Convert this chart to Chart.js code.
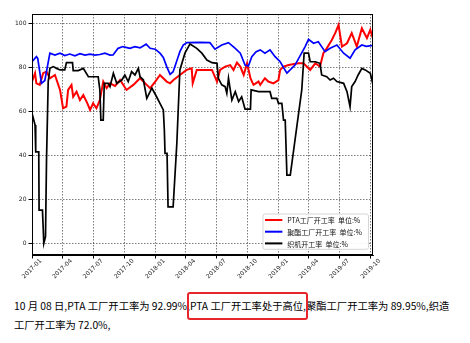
<!DOCTYPE html>
<html><head><meta charset="utf-8">
<script src="https://cdn.jsdelivr.net/npm/chart.js@4.4.0/dist/chart.umd.min.js"></script>
<style>
html,body{margin:0;padding:0;background:#fff;width:470px;height:343px;overflow:hidden;}
#wrap{position:absolute;left:0;top:0;width:470px;height:290px;}
#note{position:absolute;left:14px;top:296px;font-family:"Noto Sans CJK SC",sans-serif;font-size:10.3px;line-height:19px;color:#000;white-space:nowrap;}
#hl{position:absolute;border:2px solid #e8262a;border-radius:3px;box-sizing:border-box;}
</style></head><body>
<div id="wrap"><canvas id="c" width="470" height="290"></canvas></div>
<div id="note">10 月 08 日,PTA 工厂开工率为 92.99%,<span id="hs">PTA 工厂开工率处于高位</span>,聚酯工厂开工率为 89.95%,织造<br>工厂开工率为 72.0%,</div>
<div id="hl"></div>
<script>
const xMin = '2017-01-01';
const xMax = '2019-10-08';
const xTickLabels = ['2017-01','2017-04','2017-07','2017-10','2018-01','2018-04','2018-07','2018-10','2019-01','2019-04','2019-07','2019-10'];
const yTickValues = [0,20,40,60,80,100];
const seriesLabels = ['PTA工厂开工率  单位:%','聚酯工厂开工率  单位:%','织机开工率  单位:%'];

const ptaDates = ['2017-01-01','2017-01-10','2017-01-14','2017-01-24','2017-02-03','2017-02-13','2017-02-23','2017-03-10','2017-03-25','2017-04-03','2017-04-13','2017-04-18','2017-04-28','2017-05-03','2017-05-13','2017-05-23','2017-06-02','2017-06-14','2017-06-22','2017-07-01','2017-07-11','2017-07-21','2017-07-31','2017-08-10','2017-08-20','2017-09-04','2017-09-19','2017-10-08','2017-10-28','2017-11-17','2017-12-07','2017-12-17','2018-01-01','2018-01-15','2018-02-04','2018-02-14','2018-02-24','2018-03-15','2018-04-04','2018-04-19','2018-04-22','2018-05-04','2018-05-09','2018-06-03','2018-06-18','2018-07-03','2018-07-12','2018-07-27','2018-08-11','2018-08-21','2018-08-31','2018-09-10','2018-09-20','2018-09-30','2018-10-10','2018-10-19','2018-11-03','2018-11-08','2018-11-22','2018-12-02','2018-12-17','2019-01-01','2019-01-06','2019-01-16','2019-01-31','2019-03-01','2019-03-16','2019-04-05','2019-04-20','2019-05-04','2019-05-14','2019-05-24','2019-06-08','2019-06-18','2019-06-28','2019-07-08','2019-07-23','2019-08-06','2019-08-21','2019-09-05','2019-09-20','2019-09-30','2019-10-08'];
const ptaRate = [73.5,77.3,72.7,72.0,77.3,78.0,75.0,76.5,69.7,61.4,62.1,69.7,72.0,66.6,68.9,65.1,67.4,63.6,60.6,63.6,61.4,65.1,73.5,70.5,72.7,71.5,74.2,69.7,72.0,75.0,72.0,70.5,73.5,76.5,73.5,72.7,74.2,76.5,78.8,79.5,72.7,78.8,78.8,78.8,78.8,73.5,78.8,80.3,81.0,78.8,82.1,80.3,76.5,81.8,75.0,72.0,73.5,72.0,75.0,73.5,72.7,74.2,78.8,80.3,81.0,81.8,81.8,78.8,81.8,80.3,86.4,88.6,92.4,95.5,99.2,89.4,90.9,95.5,89.4,97.7,93.2,97.0,92.99];

const polyDates = ['2017-01-01','2017-01-14','2017-01-18','2017-01-29','2017-02-08','2017-02-23','2017-03-10','2017-03-25','2017-04-08','2017-04-23','2017-05-08','2017-05-23','2017-06-07','2017-06-22','2017-07-06','2017-07-21','2017-08-05','2017-08-20','2017-08-29','2017-09-13','2017-09-27','2017-10-18','2017-11-02','2017-11-17','2017-12-05','2017-12-17','2018-01-01','2018-01-15','2018-01-25','2018-02-04','2018-02-14','2018-02-23','2018-03-06','2018-03-15','2018-03-25','2018-04-05','2018-05-14','2018-06-12','2018-06-27','2018-07-17','2018-08-06','2018-08-26','2018-09-10','2018-09-24','2018-10-04','2018-10-14','2018-10-27','2018-11-08','2018-11-22','2018-12-07','2018-12-22','2019-01-06','2019-01-26','2019-02-19','2019-03-21','2019-03-31','2019-04-15','2019-04-29','2019-05-19','2019-06-03','2019-06-23','2019-07-13','2019-08-01','2019-08-16','2019-09-05','2019-09-18','2019-10-08'];
const polyRate = [82.5,84.8,84.0,72.7,74.0,86.4,85.5,86.4,85.3,86.0,85.2,86.2,85.5,86.0,85.5,85.8,86.4,85.5,85.6,88.6,89.4,88.6,89.4,88.8,90.5,88.6,88.2,86.4,84.5,80.3,76.8,78.0,83.0,87.1,90.1,91.2,91.3,91.2,88.2,90.1,91.2,88.6,86.4,81.0,80.6,84.8,87.1,87.9,86.4,87.9,84.8,82.5,77.3,81.0,89.4,92.7,90.9,91.6,87.1,88.6,90.1,86.4,84.1,87.9,90.1,89.5,89.95];

const loomDates = ['2017-01-01','2017-01-10','2017-01-12','2017-01-21','2017-01-22','2017-02-01','2017-02-05','2017-02-10','2017-02-13','2017-02-18','2017-02-23','2017-03-05','2017-03-15','2017-03-25','2017-04-08','2017-04-13','2017-05-01','2017-05-03','2017-05-18','2017-06-02','2017-06-17','2017-07-16','2017-07-21','2017-07-24','2017-07-31','2017-08-03','2017-08-15','2017-08-20','2017-08-30','2017-09-09','2017-09-24','2017-10-03','2017-10-13','2017-10-23','2017-11-02','2017-11-12','2017-11-17','2017-11-27','2017-12-07','2017-12-22','2018-01-05','2018-01-15','2018-01-25','2018-01-28','2018-01-30','2018-02-05','2018-02-08','2018-02-23','2018-03-06','2018-03-15','2018-03-30','2018-04-14','2018-05-04','2018-05-19','2018-06-03','2018-06-18','2018-07-03','2018-07-07','2018-07-17','2018-07-27','2018-08-01','2018-08-06','2018-08-16','2018-08-26','2018-09-05','2018-09-14','2018-09-24','2018-10-10','2018-10-12','2018-11-03','2018-12-07','2018-12-12','2018-12-27','2019-01-01','2019-01-11','2019-01-16','2019-01-21','2019-01-26','2019-02-05','2019-03-11','2019-03-18','2019-03-31','2019-04-05','2019-04-20','2019-05-04','2019-05-09','2019-05-24','2019-06-03','2019-06-13','2019-06-23','2019-07-13','2019-07-23','2019-08-01','2019-08-06','2019-08-16','2019-08-25','2019-09-05','2019-09-15','2019-09-30','2019-10-08'];
const loomRate = [59.1,53.8,41.6,41.6,15.1,15.1,0,3,37.9,73.5,79.5,80.3,79.5,78.8,78.8,82.1,82.1,78.5,78.5,79.5,75.7,75.7,69.7,56,56,72.7,72.7,71.2,77.3,72.7,74.2,76.5,73.5,78.0,76.5,79.5,75.7,74.2,65.9,70.5,66.6,63.6,60.6,51.5,40.9,40.9,16.6,16.6,45.5,78.8,86.4,90.6,88.6,86.4,83.3,82.1,81.8,75.0,72.0,71.2,68.2,75.0,65.1,68.9,64.4,66.6,61.0,61.0,69.7,68.9,68.9,65.9,65.9,63.6,63.6,56,56,31,31,69.7,86.4,86.4,82.5,82.5,81.8,76.5,75.7,74.2,75.0,73.5,72.7,68.9,62.1,71.2,73.5,76.5,79.5,78.8,77.3,72.0];

const START = Date.UTC(2017,0,1);
function dayOf(s){const p=s.split('-').map(Number);return (Date.UTC(p[0],p[1]-1,p[2]||1)-START)/86400000;}
function pts(dates, vals){return dates.map((d,i)=>({x:dayOf(d),y:vals[i]}));}

const gridCommon = {color:'rgba(0,0,0,0.65)', lineWidth:0.8, tickLength:3.5, tickColor:'#000', tickWidth:1, drawTicks:true};

const framePlugin = {id:'frame', afterDraw(chart){
  const a=chart.chartArea, ctx=chart.ctx;
  ctx.save(); ctx.strokeStyle='#000'; ctx.lineWidth=1;
  ctx.strokeRect(Math.round(a.left)+0.5, Math.round(a.top)+0.5, Math.round(a.right-a.left)-1, Math.round(a.bottom-a.top)-1);
  ctx.restore();
}};

const xLabelPlugin = {id:'xlab', afterDraw(chart){
  const ctx=chart.ctx, sc=chart.scales.x, top=chart.chartArea.bottom+3;
  ctx.save(); ctx.font='6px "DejaVu Sans"'; ctx.fillStyle='#222'; ctx.textAlign='center'; ctx.textBaseline='middle';
  xTickLabels.forEach(l=>{
    const x=sc.getPixelForValue(dayOf(l)); const w=ctx.measureText(l).width, h=5.4;
    const bb=(w+h)/Math.SQRT2;
    ctx.save(); ctx.translate(x, top+bb/2); ctx.rotate(-Math.PI/4); ctx.fillText(l,0,0); ctx.restore();
  });
  ctx.restore();
}};

const legendPlugin = {id:'leg', afterDraw(chart){
  const ctx=chart.ctx, a=chart.chartArea;
  ctx.save(); ctx.font='7px "Noto Sans CJK SC"';
  let mw=0; chart.data.datasets.forEach(d=>{mw=Math.max(mw,ctx.measureText(d.label).width);});
  const bw=24.4+mw+6.6, bh=35.3;
  const bx=a.right-4.5-bw, by=a.bottom-5.7-bh;
  ctx.fillStyle='rgba(255,255,255,0.9)'; ctx.strokeStyle='#cccccc'; ctx.lineWidth=0.8;
  ctx.beginPath(); ctx.roundRect ? ctx.roundRect(bx,by,bw,bh,2) : ctx.rect(bx,by,bw,bh); ctx.fill(); ctx.stroke();
  chart.data.datasets.forEach((d,i)=>{
    const cy=by+6+i*11.7;
    ctx.strokeStyle=d.borderColor; ctx.lineWidth=2; ctx.beginPath(); ctx.moveTo(bx+2,cy); ctx.lineTo(bx+19.4,cy); ctx.stroke();
    ctx.fillStyle='#111'; ctx.textAlign='left'; ctx.textBaseline='middle'; ctx.fillText(d.label,bx+24.4,cy+0.5);
  });
  ctx.restore();
}};

new Chart(document.getElementById('c'), {
  type:'line',
  data:{datasets:[
    {label:seriesLabels[0], data:pts(ptaDates,ptaRate), borderColor:'#ff0000', borderWidth:2, pointRadius:0, tension:0, fill:false, order:2},
    {label:seriesLabels[1], data:pts(polyDates,polyRate), borderColor:'#0000ff', borderWidth:1.7, pointRadius:0, tension:0, fill:false, order:1},
    {label:seriesLabels[2], data:pts(loomDates,loomRate), borderColor:'#000000', borderWidth:1.7, pointRadius:0, tension:0, fill:false, order:0}
  ]},
  options:{
    responsive:false, animation:false, devicePixelRatio:1,
    layout:{padding:{left:0,right:97,top:14,bottom:0}},
    plugins:{legend:{display:false}, tooltip:{enabled:false}},
    scales:{
      x:{type:'linear', min:dayOf(xMin), max:dayOf(xMax),
        afterBuildTicks:s=>{s.ticks=xTickLabels.map(l=>({value:dayOf(l)}));},
        ticks:{display:false},
        grid:gridCommon,
        border:{display:true,color:'#000',width:1,dash:[1.5,1.5]},
        afterFit:s=>{s.height=35;}
      },
      y:{type:'linear', min:-5.3, max:104.2,
        afterBuildTicks:s=>{s.ticks=yTickValues.map(v=>({value:v}));},
        ticks:{font:{family:'DejaVu Sans',size:6}, color:'#222', padding:2},
        grid:gridCommon,
        border:{display:true,color:'#000',width:1,dash:[1.5,1.5]},
        afterFit:s=>{s.width=32;}
      }
    }
  },
  plugins:[framePlugin, xLabelPlugin, legendPlugin]
});

function placeBox(){
  const r=document.getElementById('hs').getBoundingClientRect();
  const b=document.getElementById('hl');
  b.style.left=(r.left-3)+'px'; b.style.width=(r.width+8)+'px';
  b.style.top='292px'; b.style.height='28px';
}
placeBox();
if (document.fonts && document.fonts.ready) document.fonts.ready.then(placeBox);
</script>
</body></html>
